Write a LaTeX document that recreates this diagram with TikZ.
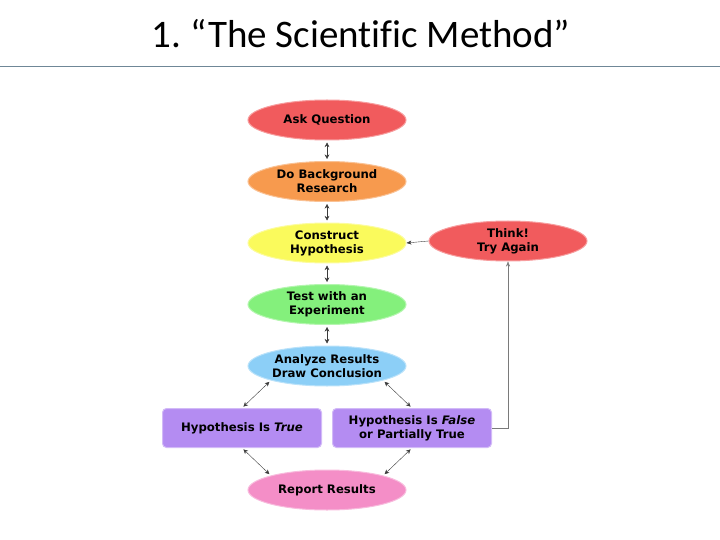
\documentclass[tikz,border=0pt]{standalone}
\usepackage{fontspec}
\setmainfont{DejaVu Sans}
\newfontfamily\titlefont[Ligatures=CommonOff]{Carlito}
\usetikzlibrary{arrows.meta,positioning,shapes.geometric}
\definecolor{StepRed}{HTML}{F15B5D}
\definecolor{StepOrange}{HTML}{F79A4E}
\definecolor{StepYellow}{HTML}{FAFA5C}
\definecolor{StepGreen}{HTML}{84F07C}
\definecolor{StepBlue}{HTML}{8CCFF7}
\definecolor{StepPurple}{HTML}{B48CF2}
\definecolor{StepPink}{HTML}{F48EC7}
\definecolor{ArrowGray}{HTML}{3A3A3A}
\definecolor{LoopGray}{HTML}{7A7A7A}
\definecolor{RuleGray}{HTML}{6F8797}
\frenchspacing
\begin{document}
\begin{tikzpicture}[x=1pt,y=-1pt,node distance=20.5pt, every node/.style={font=\fontsize{11.7}{14}\selectfont\bfseries}]
    \tikzset{oval/.style={ellipse,minimum width=158pt,minimum height=40pt,inner sep=0pt,
      align=center,line width=1pt},
      outcome/.style={rounded corners=4pt,minimum width=159pt,minimum height=39pt,
      align=center,line width=1pt},
      link/.style={{Stealth[length=4.5pt,width=4.5pt]}-{Stealth[length=4.5pt,width=4.5pt]},
      ArrowGray,shorten <=2pt,shorten >=2pt}}
    \useasboundingbox (0,0) rectangle (720,540);
    \node[font=\titlefont\fontsize{39}{42}\selectfont] (title) at (361,34) {1. “The Scientific Method”};
    \draw[RuleGray] (0,66) -- (720,66);
    \node[oval,draw=StepRed!60!white,fill=StepRed] (ask) at (327,120) {Ask Question};
    \node[oval,draw=StepOrange!60!white,fill=StepOrange,below=of ask] (bg) {Do Background\\Research};
    \node[oval,draw=StepYellow!60!white,fill=StepYellow,below=of bg] (hyp) {Construct\\Hypothesis};
    \node[oval,draw=StepRed!60!white,fill=StepRed] (think) at (508,241) {Think!\\Try Again};
    \node[oval,draw=StepGreen!60!white,fill=StepGreen,below=of hyp] (test) {Test with an\\Experiment};
    \node[oval,draw=StepBlue!60!white,fill=StepBlue,below=of test] (an) {Analyze Results\\Draw Conclusion};
    \node[outcome,draw=StepPurple!60!white,fill=StepPurple] (true) at (242,428) {Hypothesis Is \textit{True}};
    \node[outcome,draw=StepPurple!60!white,fill=StepPurple] (false) at (412,428) {Hypothesis Is \textit{False}\\or Partially True};
    \node[oval,draw=StepPink!60!white,fill=StepPink] (rep) at (327,490) {Report Results};
    \foreach \a/\b in {ask/bg,bg/hyp,hyp/test,test/an}{\draw[link] (\a) -- (\b);}
    \draw[link] (an.south west) -- (true.north);
    \draw[link] (an.south east) -- (false.north);
    \draw[link] (true.south) -- (rep.north west);
    \draw[link] (false.south) -- (rep.north east);
    \draw[-{Stealth[length=5pt,width=4pt]},LoopGray] (false.east) -| (think.south);
    \draw[-{Stealth[length=5pt,width=4pt]},ArrowGray] (think.west) -- (hyp.east);
  \end{tikzpicture}
\end{document}
